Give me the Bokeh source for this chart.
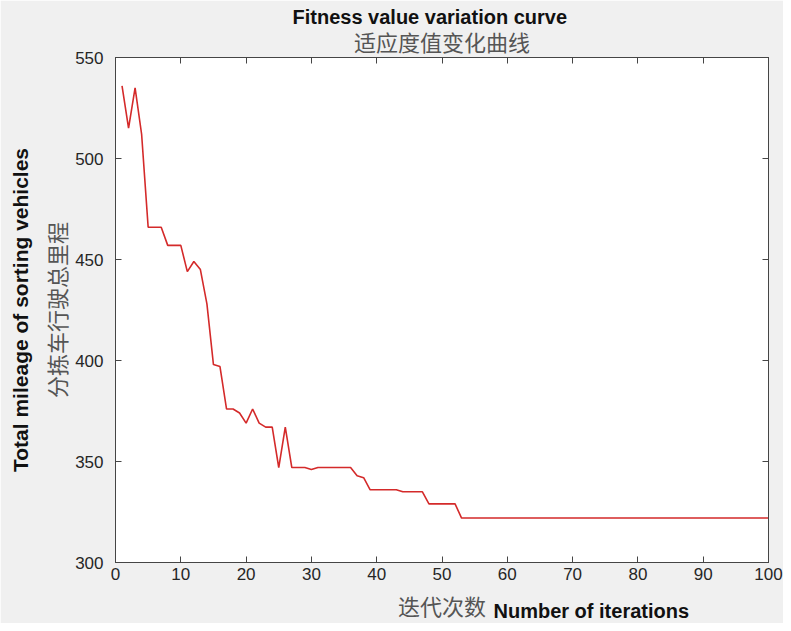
from bokeh.plotting import figure
from bokeh.models import Range1d, LinearAxis, FixedTicker, Title, CustomJSTickFormatter, ColumnDataSource
from bokeh.embed import file_html
from bokeh.resources import INLINE

# ---- data ----
iterations = list(range(1, 101))
fitness = [
    536, 515, 535, 512, 466, 466, 466, 457, 457, 457,
    444, 449, 445, 428, 398, 397, 376, 376, 374, 369,
    376, 369, 367, 367, 347, 367, 347, 347, 347, 346,
    347, 347, 347, 347, 347, 347, 343, 342, 336, 336,
    336, 336, 336, 335, 335, 335, 335, 329, 329, 329,
    329, 329, 322, 322, 322, 322, 322, 322, 322, 322,
    322, 322, 322, 322, 322, 322, 322, 322, 322, 322,
    322, 322, 322, 322, 322, 322, 322, 322, 322, 322,
    322, 322, 322, 322, 322, 322, 322, 322, 322, 322,
    322, 322, 322, 322, 322, 322, 322, 322, 322, 322,
]
x_ticks = [0, 10, 20, 30, 40, 50, 60, 70, 80, 90, 100]
y_ticks = [300, 350, 400, 450, 500, 550]

title_en = "Fitness value variation curve"
title_zh = "适应度值变化曲线"
xlabel_zh = "迭代次数"
xlabel_en = "Number of iterations"
ylabel_en = "Total mileage of sorting vehicles"
ylabel_zh = "分拣车行驶总里程"

EN_FONT = "Liberation Sans"
ZH_FONT = "Noto Sans CJK SC"
TXT = "#262626"
ZH_COL = "#555555"
FRAME = "#454545"

p = figure(width=783, height=623, output_backend="svg", toolbar_location=None,
           title=None,
           x_range=Range1d(0, 100), y_range=Range1d(300, 550),
           x_axis_location=None, y_axis_location=None,
           min_border_left=115, min_border_right=15,
           min_border_top=57, min_border_bottom=60)
p.border_fill_color = "#f0f0f0"
p.background_fill_color = "white"
p.outline_line_color = FRAME
p.outline_line_width = 1
p.xgrid.grid_line_color = None
p.ygrid.grid_line_color = None

def style_axis(ax, ticks, labels=True):
    ax.ticker = FixedTicker(ticks=ticks)
    ax.major_tick_in = 6
    ax.major_tick_out = 0
    ax.minor_tick_line_color = None
    ax.axis_line_color = FRAME
    ax.major_tick_line_color = FRAME
    ax.major_label_text_font = EN_FONT
    ax.major_label_text_font_size = "17px"
    ax.major_label_text_color = TXT
    if not labels:
        ax.formatter = CustomJSTickFormatter(code="return '';")
        ax.major_label_standoff = 0
        ax.major_label_text_font_size = "0px"

def style_label(ax, text, font, size, color, bold, standoff):
    ax.axis_label = text
    ax.axis_label_text_font = font
    ax.axis_label_text_font_size = size
    ax.axis_label_text_color = color
    ax.axis_label_text_font_style = "bold" if bold else "normal"
    ax.axis_label_standoff = standoff

# bottom axis with centred Chinese label
xb = LinearAxis()
style_axis(xb, x_ticks)
xb.major_label_standoff = 5
style_label(xb, xlabel_zh, ZH_FONT, "22px", ZH_COL, False, 6)
p.add_layout(xb, "below")

# inner left axis: tick labels + Chinese label
yl = LinearAxis()
style_axis(yl, y_ticks)
yl.major_label_standoff = 12
style_label(yl, ylabel_zh, ZH_FONT, "22px", ZH_COL, False, 0)
p.add_layout(yl, "left")

# outer left axis: English label only
yl2 = LinearAxis()
style_axis(yl2, y_ticks, labels=False)
yl2.axis_line_color = None
yl2.major_tick_line_color = None
style_label(yl2, ylabel_en, EN_FONT, "21px", "#111111", True, 6)
p.add_layout(yl2, "left")

# top / right tick axes (box style)
xt = LinearAxis(); style_axis(xt, x_ticks, labels=False)
yr = LinearAxis(); style_axis(yr, y_ticks, labels=False)
p.add_layout(xt, "above")
p.add_layout(yr, "right")

src = ColumnDataSource(dict(x=iterations, y=fitness))
p.line("x", "y", source=src, line_color="#d42a2a", line_width=1.6)

# titles
p.add_layout(Title(text=title_zh, align="center", text_font=ZH_FONT, text_font_size="22px",
                   text_font_style="normal", text_color=ZH_COL, standoff=2), "above")
p.add_layout(Title(text=title_en, align="left", offset=177, text_font=EN_FONT,
                   text_font_size="20px", text_font_style="bold", text_color="#111111",
                   standoff=-12), "above")

# English part of the x label, on the same line as the Chinese one
p.add_layout(Title(text=xlabel_en, align="left", offset=378, text_font=EN_FONT,
                   text_font_size="20px", text_font_style="bold", text_color="#111111",
                   vertical_align="top", standoff=-47), "below")

open("out.html", "w").write(file_html(p, INLINE))
